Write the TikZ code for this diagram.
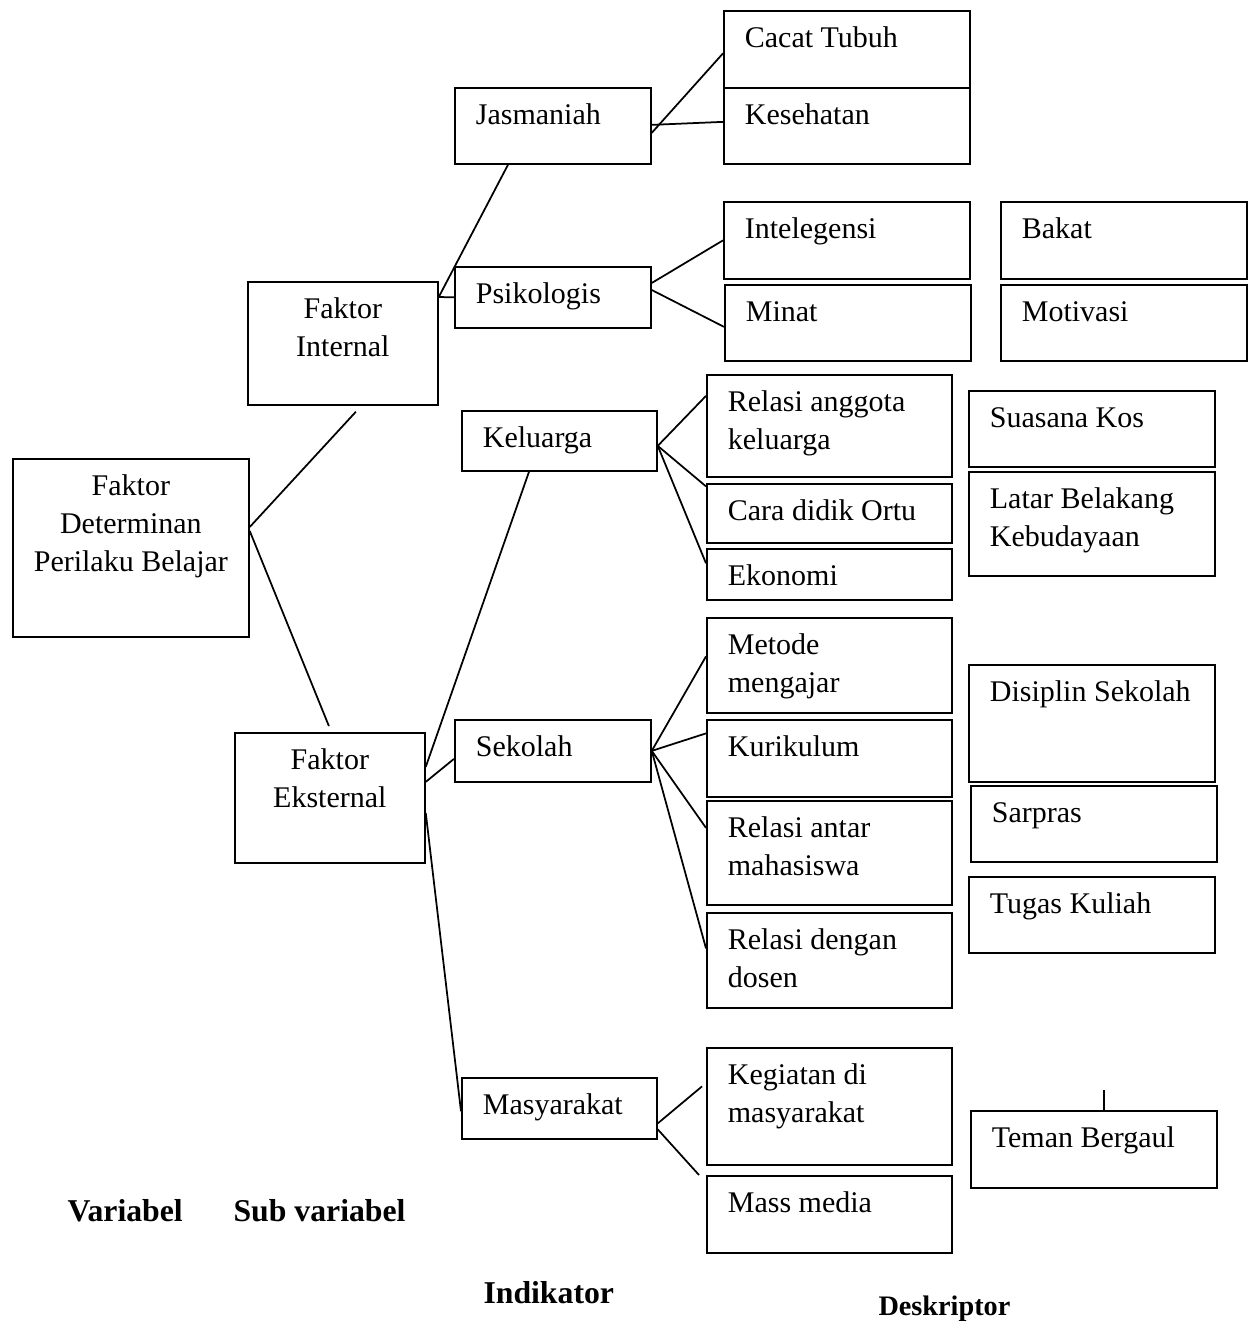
\documentclass[tikz,border=0pt]{standalone}
\usepackage{fontspec}
\setmainfont{Liberation Serif}
\usetikzlibrary{calc}

\newdimen\px \px=0.4pt
\newcommand{\isifont}{\fontsize{12}{15.2}\selectfont}
% isi kotak: lebar, tinggi (px), teks di atas
\newcommand{\isi}[3]{\parbox[t][\dimexpr#2\px-8pt\relax][t]{\dimexpr#1\px-16.8pt\relax}{\raggedright\strut#3}}
\newcommand{\isitengah}[3]{\parbox[t][\dimexpr#2\px-8pt\relax][t]{\dimexpr#1\px-4pt\relax}{\centering\strut#3}}

\tikzset{
  kotak/.style={draw, line width=0.7pt, anchor=north west,
                inner xsep=8.4pt, inner ysep=4.2pt, font=\isifont},
  kotaktengah/.style={kotak, inner xsep=2pt},
  garis/.style={line width=0.7pt},
  judul/.style={anchor=base west, inner sep=0pt,
                font=\bfseries\fontsize{12.7}{15}\selectfont}
}

\begin{document}
\begin{tikzpicture}[x=0.4pt, y=-0.4pt]
\useasboundingbox (0,0) rectangle (1254,1324);

% variabel dan sub variabel
\node[kotaktengah] (fdpb) at (12,458) {\isitengah{236}{177}{Faktor\\Determinan\\Perilaku Belajar}};
\node[kotaktengah] (fint) at (247,281) {\isitengah{190}{122}{Faktor\\Internal}};
\node[kotaktengah] (feks) at (234,732) {\isitengah{190}{129}{Faktor\\Eksternal}};

% indikator
\node[kotak] (jasm) at (454,87)   {\isi{196}{75}{Jasmaniah}};
\node[kotak] (psik) at (454,266)  {\isi{196}{60}{Psikologis}};
\node[kotak] (kel)  at (461,410)  {\isi{195}{59}{Keluarga}};
\node[kotak] (sek)  at (454,719)  {\isi{196}{61}{Sekolah}};
\node[kotak] (mas)  at (461,1077) {\isi{195}{60}{Masyarakat}};

% deskriptor
\node[kotak] (cacat)   at (723,10)   {\isi{246}{76}{Cacat Tubuh}};
\node[kotak] (sehat)   at (723,87)   {\isi{246}{75}{Kesehatan}};
\node[kotak] (intel)   at (723,201)  {\isi{246}{76}{Intelegensi}};
\node[kotak] (minat)   at (724,284)  {\isi{246}{75}{Minat}};
\node[kotak] (bakat)   at (1000,201) {\isi{246}{76}{Bakat}};
\node[kotak] (motiv)   at (1000,284) {\isi{246}{75}{Motivasi}};
\node[kotak] (relkel)  at (706,374)  {\isi{245}{101}{Relasi anggota\\keluarga}};
\node[kotak] (didik)   at (706,483)  {\isi{245}{58}{Cara didik Ortu}};
\node[kotak] (ekon)    at (706,548)  {\isi{245}{50}{Ekonomi}};
\node[kotak] (kos)     at (968,390)  {\isi{246}{75}{Suasana Kos}};
\node[kotak] (latar)   at (968,471)  {\isi{246}{103}{Latar Belakang\\Kebudayaan}};
\node[kotak] (metode)  at (706,617)  {\isi{245}{94}{Metode\\mengajar}};
\node[kotak] (kurik)   at (706,719)  {\isi{245}{76}{Kurikulum}};
\node[kotak] (relmhs)  at (706,800)  {\isi{245}{103}{Relasi antar\\mahasiswa}};
\node[kotak] (reldos)  at (706,912)  {\isi{245}{94}{Relasi dengan\\dosen}};
\node[kotak] (disip)   at (968,664)  {\isi{246}{116}{Disiplin Sekolah}};
\node[kotak] (sarpras) at (970,785)  {\isi{246}{75}{Sarpras}};
\node[kotak] (tugas)   at (968,876)  {\isi{246}{75}{Tugas Kuliah}};
\node[kotak] (kegiat)  at (706,1047) {\isi{245}{116}{Kegiatan di\\masyarakat}};
\node[kotak] (media)   at (706,1175) {\isi{245}{76}{Mass media}};
\node[kotak] (teman)   at (970,1110) {\isi{246}{76}{Teman Bergaul}};

% garis penghubung
\draw[garis] ($(fdpb.north east)+(0,69)$) -- ($(fint.south)+(13,6)$);
\draw[garis] ($(fdpb.north east)+(0,73)$) -- ($(feks.north)+(-1,-6)$);
\draw[garis] ($(fint.north east)+(0,16)$) -- ($(jasm.south west)+(54,0)$);
\draw[garis] ($(fint.north east)+(0,16)$) -- (psik.west);
\draw[garis] ($(jasm.east)+(0,7)$) -- ($(cacat.west)+(0,4)$);
\draw[garis] ($(jasm.east)+(0,-1)$) -- ($(sehat.west)+(0,-4)$);
\draw[garis] ($(psik.north east)+(0,17)$) -- (intel.west);
\draw[garis] ($(psik.north east)+(0,24)$) -- ($(minat.west)+(0,4)$);
\foreach \t/\dy in {relkel/-30, didik/-27, ekon/-11}
  \draw[garis] ($(kel.east)+(0,5)$) -- ($(\t.west)+(0,\dy)$);
\draw[garis] ($(feks.east)+(0,-31)$) -- ($(kel.south west)+(68,0)$);
\draw[garis] ($(feks.east)+(0,-16)$) -- ($(sek.west)+(0,8)$);
\draw[garis] ($(feks.east)+(0,15)$) -- ($(mas.west)+(0,3)$);
\foreach \t/\dy in {metode/-9, kurik/-25, relmhs/-25, reldos/-12}
  \draw[garis] (sek.east) -- ($(\t.west)+(0,\dy)$);
\draw[garis] ($(mas.east)+(0,15)$) -- ($(kegiat.west)+(-4,-20)$);
\draw[garis] ($(mas.east)+(0,21)$) -- ($(media.north west)+(-7,0)$);
\coordinate (tik) at ($(teman.north)+(10,-20)$);
\draw[garis] ($(teman.north)+(10,0)$) -- (tik);

% keterangan
\node[judul] (lvar) at (67,1221)  {Variabel};
\node[judul] (lsub) at (233,1221) {Sub variabel};
\node[judul] (lind) at (483,1303) {Indikator};
\node[judul, font=\bfseries\fontsize{11.3}{14}\selectfont] (ldes) at (878,1315) {Deskriptor};
\end{tikzpicture}
\end{document}
